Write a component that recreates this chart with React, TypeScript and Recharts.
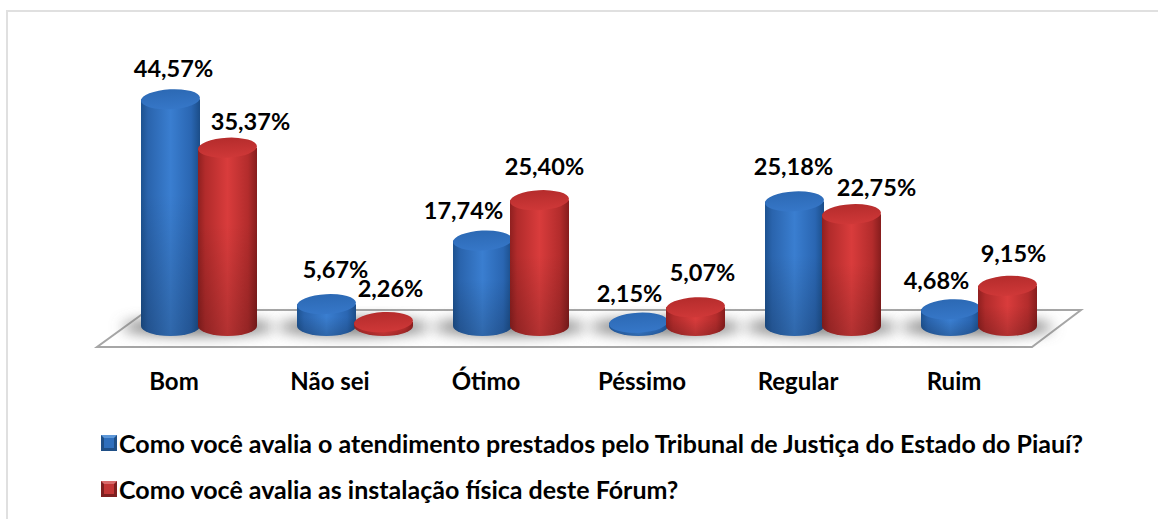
import React from "react";
import { BarChart, Bar, XAxis, YAxis, Legend, LabelList, Customized } from "recharts";

const categories = ["Bom", "Não sei", "Ótimo", "Péssimo", "Regular", "Ruim"];
const atendimento = [44.57, 5.67, 17.74, 2.15, 25.18, 4.68];
const instalacao = [35.37, 2.26, 25.4, 5.07, 22.75, 9.15];
const seriesNames = [
  "Como você avalia o atendimento prestados pelo Tribunal de Justiça do Estado do Piauí?",
  "Como você avalia as instalação física deste Fórum?",
];
const data = categories.map((c, i) => ({ c, a: atendimento[i], b: instalacao[i] }));

const FONT = "Lato, Carlito, sans-serif";
const RY = 10;
const BASE_Y = 334;
const labelShiftA = [[3, -21], [9, -25], [-19, -21], [-9, -20], [-1, -25], [-14, -19]];
const labelShiftB = [[23, -17], [7, -24], [5, -24], [7, -25], [25, -17], [6, -23]];

const fmt = (v: number) => v.toFixed(2).replace(".", ",") + "%";

const Cyl = (color: string) => (p: any) => {
  const { x, y, width: w } = p;
  const rx = w / 2;
  const botC = BASE_Y - 8;
  const topC = y;
  const body = `M${x},${topC} L${x},${botC} A${rx},${RY} 0 0 0 ${x + w},${botC} L${x + w},${topC} Z`;
  return (
    <g>
      <path d={body} fill={`url(#body-${color})`} />
      <path d={body} fill="url(#shade)" />
      <ellipse
        cx={x + rx}
        cy={topC}
        rx={rx}
        ry={RY}
        fill={`url(#top-${color})`}
        transform={`rotate(-3 ${x + rx} ${topC})`}
      />
    </g>
  );
};

const Label = (shift: number[][]) => (p: any) => {
  const { x, y, width, value, index } = p;
  const [dx, dy] = shift[index];
  return (
    <text
      x={x + width / 2 + dx}
      y={y - RY + dy}
      textAnchor="middle"
      dominantBaseline="central"
      fontFamily={FONT}
      fontWeight={700}
      fontSize={23.5}
      fill="#000"
    >
      {fmt(value)}
    </text>
  );
};

const Tick = (p: any) => (
  <text
    x={p.x - 25}
    y={380}
    textAnchor="middle"
    dominantBaseline="central"
    fontFamily={FONT}
    fontWeight={700}
    fontSize={24}
    fill="#000"
  >
    {p.payload.value}
  </text>
);

const Floor = () => (
  <g>
    <defs>
      <linearGradient id="body-blue" x1="0" x2="1" y1="0" y2="0">
        <stop offset="0" stopColor="#1d5290" />
        <stop offset="0.12" stopColor="#2a64ad" />
        <stop offset="0.5" stopColor="#3a7ed0" />
        <stop offset="0.85" stopColor="#2a66b2" />
        <stop offset="1" stopColor="#1b4d88" />
      </linearGradient>
      <linearGradient id="top-blue" x1="0" x2="0" y1="0" y2="1">
        <stop offset="0" stopColor="#2c69b4" />
        <stop offset="1" stopColor="#3677c8" />
      </linearGradient>
      <linearGradient id="body-red" x1="0" x2="1" y1="0" y2="0">
        <stop offset="0" stopColor="#8f2020" />
        <stop offset="0.12" stopColor="#b12b2b" />
        <stop offset="0.5" stopColor="#d93c3c" />
        <stop offset="0.85" stopColor="#b32c2c" />
        <stop offset="1" stopColor="#861d1d" />
      </linearGradient>
      <linearGradient id="top-red" x1="0" x2="0" y1="0" y2="1">
        <stop offset="0" stopColor="#b52c2c" />
        <stop offset="1" stopColor="#cf3838" />
      </linearGradient>
      <linearGradient id="shade" x1="0" x2="0" y1="0" y2="1">
        <stop offset="0.4" stopColor="#000" stopOpacity={0} />
        <stop offset="1" stopColor="#000" stopOpacity={0.18} />
      </linearGradient>
      <filter id="soft" x="-30%" y="-80%" width="160%" height="260%">
        <feGaussianBlur stdDeviation="7" />
      </filter>
    </defs>
    <polygon
      points="97,347 1032,347 1081,310 148,310"
      fill="#fff"
      stroke="#a6a6a6"
      strokeWidth={2}
    />
    {categories.map((c, i) => (
      <ellipse
        key={c}
        cx={198 + i * 155.8}
        cy={327}
        rx={76}
        ry={8}
        fill="#757575"
        filter="url(#soft)"
      />
    ))}
  </g>
);

const LegendBody = (p: any) => (
  <div>
    {p.payload.map((e: any, i: number) => (
      <div
        key={e.value}
        style={{
          position: "absolute",
          left: 0,
          top: i * 46,
          height: 24,
          display: "flex",
          alignItems: "center",
          whiteSpace: "nowrap",
          fontFamily: FONT,
          fontWeight: 700,
          fontSize: 25,
          color: "#000",
        }}
      >
        <svg width={16} height={16} style={{ marginRight: 2 }}>
          <rect x={0} y={0} width={16} height={16} fill={i === 0 ? "#1f4f86" : "#7e1f1f"} />
          <polygon points="0,0 16,0 8,8" fill={i === 0 ? "#5d97d8" : "#d96a6a"} />
          <rect x={3} y={3} width={10} height={10} fill={i === 0 ? "#2f6fbc" : "#c23535"} />
        </svg>
        {e.value}
      </div>
    ))}
  </div>
);

export default function App() {
  return (
    <div style={{ position: "absolute", left: 0, top: 0, width: 1158, height: 519, overflow: "hidden", background: "#fff" }}>
      <div style={{ position: "absolute", left: 6, top: 10, width: 1200, height: 540, borderTop: "2px solid #e0e0e0", borderLeft: "2px solid #e0e0e0" }} />
      <div style={{ position: "absolute", left: 0, top: 0 }}>
        <BarChart
          width={1158}
          height={519}
          data={data}
          margin={{ top: 18, right: 101, bottom: 45, left: 121 }}
          barGap={-2}
          barSize={59}
          style={{ background: "transparent" }}
        >
          <Customized component={Floor} />
          <XAxis dataKey="c" axisLine={false} tickLine={false} height={60} tick={Tick} interval={0} />
          <YAxis hide domain={[0, 60]} />
          <Bar dataKey="a" name={seriesNames[0]} fill="#2f6fbc" isAnimationActive={false} shape={Cyl("blue")}>
            <LabelList dataKey="a" content={Label(labelShiftA)} />
          </Bar>
          <Bar dataKey="b" name={seriesNames[1]} fill="#c23535" isAnimationActive={false} shape={Cyl("red")}>
            <LabelList dataKey="b" content={Label(labelShiftB)} />
          </Bar>
          <Legend
            content={LegendBody}
            itemSorter={(e: any) => seriesNames.indexOf(e.value)}
            wrapperStyle={{ position: "absolute", left: 101, top: 431, width: 1040, height: 80 }}
          />
        </BarChart>
      </div>
    </div>
  );
}
